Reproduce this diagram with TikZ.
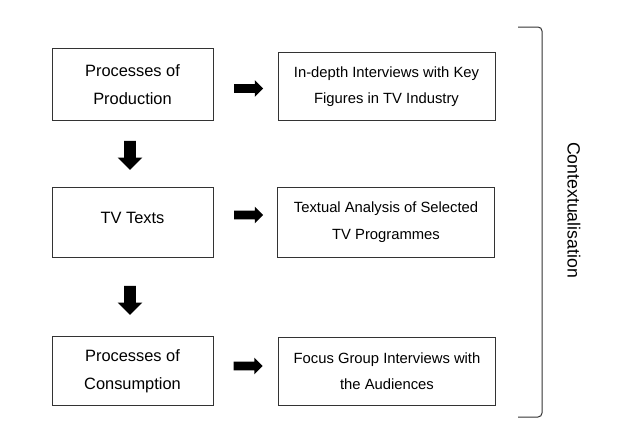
\documentclass[tikz,border=0pt]{standalone}
\usepackage{fontspec}
\setmainfont{Liberation Sans}
\usepackage{tikz}
\usepackage{xcolor}
\usetikzlibrary{shapes.arrows}
\usetikzlibrary {arrows.meta,positioning,calc}
\definecolor{BoxBorder}{HTML}{333333}
\tikzstyle{StageNode} =[draw=BoxBorder,line width=1pt,minimum width=161pt,minimum height=72pt,align=center,font={\fontsize{16.4}{28}\selectfont}]
\tikzstyle{MethodNode} =[draw=BoxBorder,line width=1pt,minimum width=217pt,minimum height=68pt,align=center,font={\fontsize{14.8}{26.5}\selectfont}]
\tikzstyle{RightBlock} =[single arrow,fill=black,inner xsep=0pt,inner ysep=4pt,minimum height=29pt,single arrow head extend=4pt,single arrow head indent=0pt]
\tikzstyle{DownBlock} =[single arrow,fill=black,inner xsep=0pt,inner ysep=5.5pt,minimum height=29pt,single arrow head extend=6.5pt,single arrow head indent=0pt,rotate=-90]

\begin{document}
\begin{tikzpicture}[x=1pt,y=-1pt,semithick]
    \useasboundingbox (0,0) rectangle (623,426);
    \node[StageNode](Production-Processes) at (132.5,84.5){Processes of\\Production};
    \node[StageNode,minimum height=70pt](TV-Texts) at (132.5,222){\raisebox{9pt}{TV Texts}};
    \node[StageNode,minimum height=69pt](Consumption-Processes) at (132.5,371){Processes of\\Consumption};

    \node[MethodNode](Key-Figures-Interviews) at (386.5,86.5){In-depth Interviews with Key\\Figures in TV Industry};
    \node[MethodNode,minimum height=70pt](Textual-Analysis) at (386,222){Textual Analysis of Selected\\TV Programmes};
    \node[MethodNode](Focus-Groups) at (387,371){Focus Group Interviews with\\the Audiences};

    \node[RightBlock](Production-Arrow) at (246.5,88.5){};
    \node[RightBlock](Texts-Arrow) at (246.5,215){};
    \node[RightBlock](Consumption-Arrow) at (246,366){};
    \node[DownBlock](Production-Down) at (130,152.5){};
    \node[DownBlock](Texts-Down) at (130,297.5){};

    % bracket
    \coordinate (Bracket-Top) at (518,27);
    \coordinate (Bracket-Bottom) at (518,417);
    \draw[draw=BoxBorder,line width=1pt,rounded corners=4pt] (Bracket-Top) -- ++(24,0) |- (Bracket-Bottom);
    \node[rotate=-90,font={\fontsize{17.7}{20}\selectfont}](Contextualisation) at (574,210){Contextualisation};
\end{tikzpicture}
\end{document}
